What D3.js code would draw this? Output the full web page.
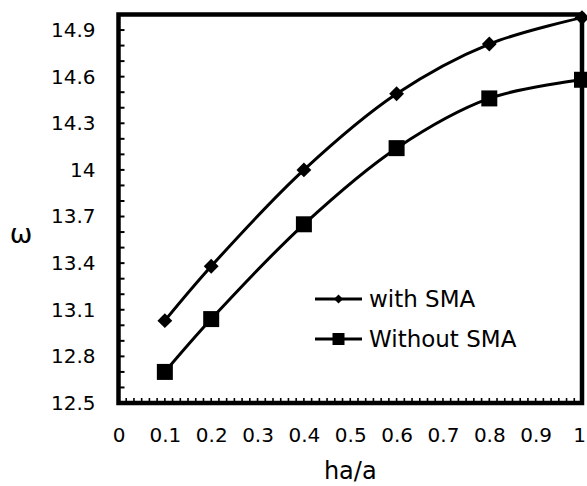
<!DOCTYPE html>
<html>
<head>
<meta charset="utf-8">
<script src="https://cdn.jsdelivr.net/npm/d3@7"></script>
<style>
html,body{margin:0;padding:0;background:#fff;}
svg{display:block;font-family:"DejaVu Sans",sans-serif;}
</style>
</head>
<body>
<svg id="chart" width="587" height="486"></svg>
<script>
const xValues = [0.1, 0.2, 0.4, 0.6, 0.8, 1.0];
const withSMA = [13.03, 13.38, 14.00, 14.49, 14.81, 14.98];
const withoutSMA = [12.70, 13.04, 13.65, 14.14, 14.46, 14.58];
const seriesNames = ["with SMA", "Without SMA"];
const xTickLabels = ["0","0.1","0.2","0.3","0.4","0.5","0.6","0.7","0.8","0.9","1"];
const yTickLabels = ["12.5","12.8","13.1","13.4","13.7","14","14.3","14.6","14.9"];
const xTitle = "ha/a";
const yTitle = "ω";

const svg = d3.select("#chart");
const L = 118.5, R = 582, T = 14.5, B = 403;
const x = d3.scaleLinear().domain([0, 1]).range([L, R]);
const y = d3.scaleLinear().domain([12.5, 15.0]).range([B, T]);

// minor ticks inside
const xMinor = d3.range(0, 61).map(i => i / 60);
svg.append("g").selectAll("line").data(xMinor).join("line")
  .attr("x1", d => x(d)).attr("x2", d => x(d))
  .attr("y1", B).attr("y2", B - 5)
  .attr("stroke", "#000").attr("stroke-width", 1.6);
const yMinor = d3.range(0, 26).map(i => 12.5 + i * 0.1);
svg.append("g").selectAll("line").data(yMinor).join("line")
  .attr("x1", L).attr("x2", L + 6)
  .attr("y1", d => y(d)).attr("y2", d => y(d))
  .attr("stroke", "#000").attr("stroke-width", 2);

// frame
svg.append("rect").attr("x", L).attr("y", T).attr("width", R - L).attr("height", B - T)
  .attr("fill", "none").attr("stroke", "#000").attr("stroke-width", 4.5);

const tickFont = 20;
const xAxis = d3.axisBottom(x).tickValues(xTickLabels.map(Number))
  .tickFormat((d, i) => xTickLabels[i]).tickSize(0).tickPadding(0);
const gx = svg.append("g").attr("transform", `translate(0,${B + 25})`).call(xAxis);
gx.select(".domain").remove();
gx.attr("font-size", tickFont).attr("font-family", "DejaVu Sans");
gx.selectAll("text").attr("font-size", tickFont).attr("fill", "#000")
  .attr("dx", (d, i) => i === xTickLabels.length - 1 ? -3 : 0);

const yAxis = d3.axisLeft(y).tickValues(yTickLabels.map(Number))
  .tickFormat((d, i) => yTickLabels[i]).tickSize(0).tickPadding(0);
const gy = svg.append("g").attr("transform", `translate(${L - 23},0)`).call(yAxis);
gy.select(".domain").remove();
gy.attr("font-size", tickFont).attr("font-family", "DejaVu Sans");
gy.selectAll("text").attr("font-size", tickFont).attr("fill", "#000");

svg.append("text").attr("x", (L + R) / 2).attr("y", 479).attr("text-anchor", "middle")
  .attr("font-size", 24).attr("fill", "#000").text(xTitle);
svg.append("text").attr("x", 21).attr("y", 243).attr("text-anchor", "middle")
  .attr("font-size", 27).attr("fill", "#000").text(yTitle);

const line = d3.line().x(d => x(d[0])).y(d => y(d[1])).curve(d3.curveCatmullRom.alpha(0.5));
const series = [
  {name: seriesNames[0], vals: withSMA, sym: d3.symbolSquare, size: 110, rot: 45},
  {name: seriesNames[1], vals: withoutSMA, sym: d3.symbolSquare, size: 256, rot: 0}
];
series.forEach(s => {
  const pts = xValues.map((xv, i) => [xv, s.vals[i]]);
  svg.append("path").attr("d", line(pts)).attr("fill", "none")
    .attr("stroke", "#000").attr("stroke-width", 3);
  svg.append("g").selectAll("path").data(pts).join("path")
    .attr("transform", d => `translate(${x(d[0])},${y(d[1])}) rotate(${s.rot})`)
    .attr("d", d3.symbol(s.sym, s.size)).attr("fill", "#000");
});

// legend
const legY = [299, 339];
series.forEach((s, i) => {
  const g = svg.append("g");
  g.append("line").attr("x1", 315).attr("x2", 362).attr("y1", legY[i]).attr("y2", legY[i])
    .attr("stroke", "#000").attr("stroke-width", 3);
  g.append("path").attr("transform", `translate(338.5,${legY[i]}) rotate(${s.rot})`)
    .attr("d", d3.symbol(s.sym, i === 0 ? 40 : 144)).attr("fill", "#000");
  g.append("text").attr("x", 369).attr("y", legY[i] + 8).attr("font-size", 23)
    .attr("fill", "#000").text(s.name);
});
</script>
</body>
</html>
